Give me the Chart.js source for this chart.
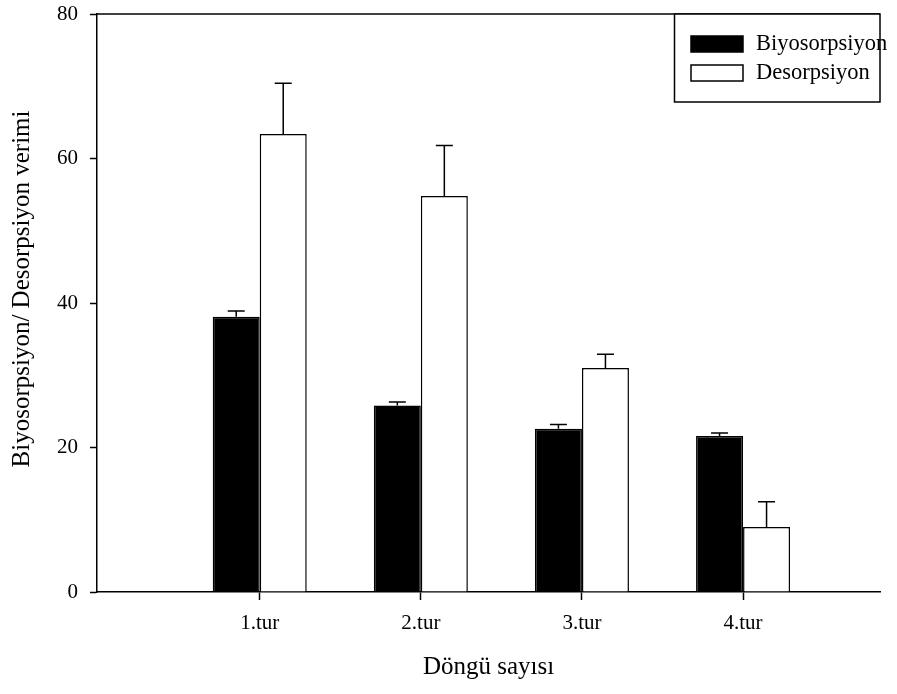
<!DOCTYPE html>
<html>
<head>
    <meta charset="utf-8" />
    <style>
        body { margin: 0; background: #fff; }
        #wrap { width: 897px; height: 694px; }
    </style>
</head>
<body>
    <div id="wrap">
        <canvas id="chart" width="897" height="694"></canvas>
    </div>

    <script src="https://cdn.jsdelivr.net/npm/chart.js"></script>
    <script type="text/javascript">
        // Datos del grafico
        var turlar = ['1.tur', '2.tur', '3.tur', '4.tur'];
        var turPos = [1, 2, 3, 4];
        var biyoVerim = [38.1, 25.8, 22.6, 21.6];
        var biyoHata = [0.8, 0.5, 0.6, 0.4];
        var desVerim = [63.4, 54.8, 31.0, 9.0];
        var desHata = [7.0, 7.0, 1.9, 3.5];
        var yTicks = [0, 20, 40, 60, 80];
        var yBaslik = 'Biyosorpsiyon/ Desorpsiyon verimi';

        var yazi = 'Liberation Serif, Times New Roman, serif';

        function noktalar(degerler) {
            return degerler.map(function (v, i) { return { x: turPos[i], y: v }; });
        }

        // hata cubuklari (sadece yukari)
        var hataCubuklari = {
            id: 'hataCubuklari',
            afterDatasetsDraw: function (chart) {
                var ctx = chart.ctx;
                var y = chart.scales.y;
                ctx.save();
                ctx.strokeStyle = '#000';
                ctx.lineWidth = 1.5;
                chart.data.datasets.forEach(function (ds, i) {
                    var meta = chart.getDatasetMeta(i);
                    meta.data.forEach(function (bar, j) {
                        var ust = y.getPixelForValue(ds.data[j].y + ds.hata[j]);
                        ctx.beginPath();
                        ctx.moveTo(bar.x, bar.y);
                        ctx.lineTo(bar.x, ust);
                        ctx.moveTo(bar.x - 8.5, ust);
                        ctx.lineTo(bar.x + 8.5, ust);
                        ctx.stroke();
                    });
                });
                ctx.restore();
            }
        };

        // ust cizgi, y basligi ve kutulu lejant
        var cerceveLejant = {
            id: 'cerceveLejant',
            afterDraw: function (chart) {
                var ctx = chart.ctx;
                var a = chart.chartArea;
                ctx.save();
                ctx.strokeStyle = '#000';
                ctx.lineWidth = 1.5;
                ctx.beginPath();
                ctx.moveTo(a.left, a.top);
                ctx.lineTo(a.right, a.top);
                ctx.stroke();

                // y ekseni basligi
                ctx.save();
                ctx.translate(22, 289);
                ctx.rotate(-Math.PI / 2);
                ctx.font = '25px ' + yazi;
                ctx.fillStyle = '#000';
                ctx.textAlign = 'center';
                ctx.textBaseline = 'middle';
                ctx.fillText(yBaslik, 0, 0);
                ctx.restore();

                var kx = 674.5, ky = a.top, kw = a.right - kx, kh = 88;
                ctx.fillStyle = '#fff';
                ctx.fillRect(kx, ky, kw, kh);
                ctx.strokeRect(kx, ky, kw, kh);

                ctx.font = '22.5px ' + yazi;
                ctx.textBaseline = 'middle';
                ctx.textAlign = 'left';
                chart.data.datasets.forEach(function (ds, i) {
                    var sy = 36 + i * 29;
                    ctx.fillStyle = ds.backgroundColor;
                    ctx.fillRect(691, sy, 52, 16);
                    ctx.strokeRect(691, sy, 52, 16);
                    ctx.fillStyle = '#000';
                    ctx.fillText(ds.label, 756, sy + 8);
                });
                ctx.restore();
            }
        };

        var ctx = document.getElementById('chart').getContext('2d');
        var grafik = new Chart(ctx, {
            type: 'bar',
            data: {
                datasets: [{
                    label: 'Biyosorpsiyon',
                    data: noktalar(biyoVerim),
                    hata: biyoHata,
                    backgroundColor: '#000',
                    borderColor: '#000',
                    borderWidth: 1.5
                }, {
                    label: 'Desorpsiyon',
                    data: noktalar(desVerim),
                    hata: desHata,
                    backgroundColor: '#fff',
                    borderColor: '#000',
                    borderWidth: 1.5
                }]
            },
            options: {
                responsive: false,
                animation: false,
                categoryPercentage: 0.5835,
                barPercentage: 1,
                layout: { padding: { top: 14, right: 17, left: 0, bottom: 0 } },
                plugins: {
                    legend: { display: false },
                    tooltip: { enabled: false }
                },
                scales: {
                    x: {
                        type: 'linear',
                        min: -0.01,
                        max: 4.85,
                        offset: false,
                        afterBuildTicks: function (scale) {
                            scale.ticks = turPos.map(function (v) { return { value: v }; });
                        },
                        afterFit: function (scale) {
                            scale.height = 102;
                            scale.paddingLeft = 0;
                            scale.paddingRight = 0;
                        },
                        grid: {
                            offset: false,
                            drawOnChartArea: false,
                            drawTicks: true,
                            tickLength: 8,
                            tickWidth: 1.5,
                            color: '#000'
                        },
                        border: { display: true, color: '#000', width: 1.5 },
                        ticks: {
                            color: '#000',
                            padding: 11,
                            maxRotation: 0,
                            font: { family: yazi, size: 21 },
                            callback: function (value, index) { return turlar[index]; }
                        },
                        title: {
                            display: true,
                            text: 'Döngü sayısı',
                            color: '#000',
                            font: { family: yazi, size: 25 },
                            padding: { top: 0, bottom: 12 }
                        }
                    },
                    y: {
                        min: 0,
                        max: 80,
                        afterBuildTicks: function (scale) {
                            scale.ticks = yTicks.map(function (v) { return { value: v }; });
                        },
                        afterFit: function (scale) {
                            scale.width = 97;
                            scale.paddingTop = 0;
                            scale.paddingBottom = 0;
                        },
                        grid: {
                            drawOnChartArea: false,
                            drawTicks: true,
                            tickLength: 7,
                            tickWidth: 1.5,
                            color: '#000'
                        },
                        border: { display: true, color: '#000', width: 1.5 },
                        ticks: {
                            color: '#000',
                            padding: 12,
                            font: { family: yazi, size: 21 }
                        }
                    }
                }
            },
            plugins: [hataCubuklari, cerceveLejant]
        });
    </script>
</body>
</html>
